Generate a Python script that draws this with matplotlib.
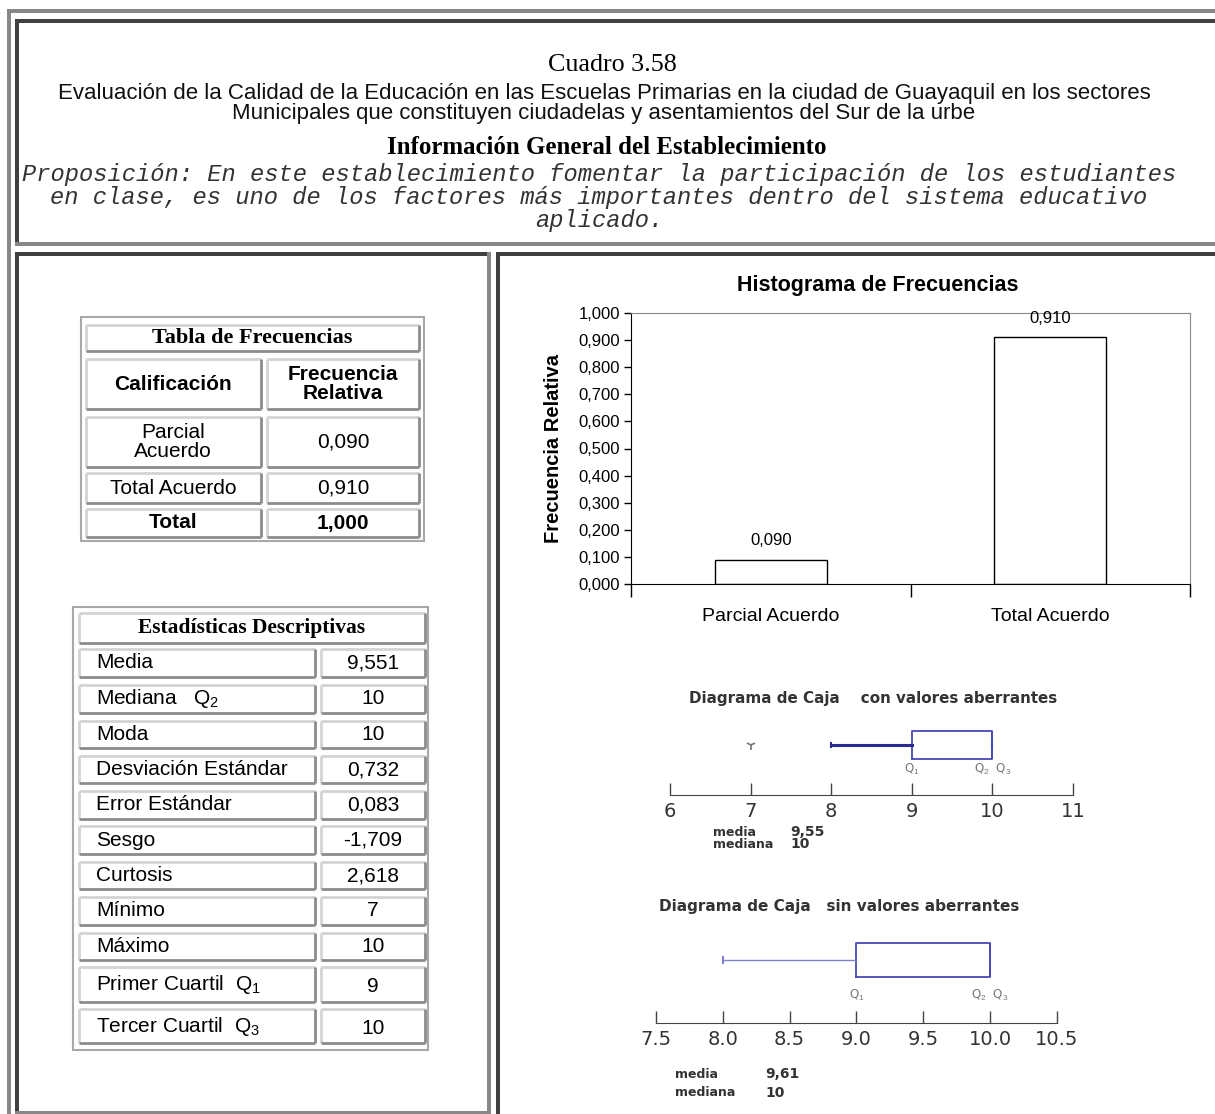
import matplotlib
matplotlib.use("Agg")
import matplotlib.pyplot as plt
from matplotlib.patches import Rectangle
from matplotlib.ticker import FuncFormatter

plt.rcParams['mathtext.fontset'] = 'custom'
plt.rcParams['mathtext.rm'] = 'Liberation Sans'
plt.rcParams['mathtext.it'] = 'Liberation Sans'

# ---- data ----
categories = ["Parcial Acuerdo", "Total Acuerdo"]
freq_rel = [0.090, 0.910]
freq_total = 1.000

stat_names = ["Media", "Mediana   Q$_\\mathrm{2}$", "Moda", "Desviación Estándar",
              "Error Estándar", "Sesgo", "Curtosis", "Mínimo", "Máximo",
              "Primer Cuartil  Q$_\\mathrm{1}$", "Tercer Cuartil  Q$_\\mathrm{3}$"]
stat_values = ["9,551", "10", "10", "0,732", "0,083", "-1,709", "2,618", "7", "10", "9", "10"]

# box plot with outliers
box1_q1, box1_med, box1_q3 = 9, 10, 10
box1_lo, box1_hi = 8, 10
box1_out = [7]
box1_mean = "9,55"
box1_ticks = [6, 7, 8, 9, 10, 11]

# box plot without outliers
box2_q1, box2_med, box2_q3 = 9, 10, 10
box2_lo, box2_hi = 8, 10
box2_out = []
box2_mean = "9,61"
box2_ticks = [7.5, 8.0, 8.5, 9.0, 9.5, 10.0, 10.5]

W, H = 1215, 1114
GRAY = "#878787"
DARK = "#404040"
SANS = "Liberation Sans"
SERIF = "Liberation Serif"
MONO = "Liberation Mono"


def comma(v, n=3):
    return f"{v:.{n}f}".replace(".", ",")


def px_axes(fig, x0, y0, x1, y1):
    # pixel box (top-left origin) -> figure axes
    return fig.add_axes([x0 / W, 1 - y1 / H, (x1 - x0) / W, (y1 - y0) / H])


fig = plt.figure(figsize=(W / 100, H / 100), dpi=100)
bg = fig.add_axes([0, 0, 1, 1])
bg.set_xlim(0, W)
bg.set_ylim(H, 0)
bg.axis("off")


def band(x0, y0, x1, y1, c):
    bg.add_patch(Rectangle((x0, y0), x1 - x0, y1 - y0, color=c, lw=0))


# frames
band(7, 9, W, 12.5, GRAY)
band(7, 9, 11, H, GRAY)
band(15, 19, W, 23, DARK)
band(15, 19, 19, 246, DARK)
band(15, 242, W, 246, GRAY)
band(15, 252, 491, 256, DARK)
band(15, 252, 19, H, DARK)
band(487, 252, 491, H, GRAY)
band(15, 1111, 491, H, GRAY)
band(496, 252, W, 256, DARK)
band(496, 252, 500, H, DARK)

# header texts
bg.text(612, 65, "Cuadro 3.58", family=SERIF, fontsize=18.7, ha="center", va="center")
bg.text(604, 93, "Evaluación de la Calidad de la Educación en las Escuelas Primarias en la ciudad de Guayaquil en los sectores",
        family=SANS, fontsize=16, ha="center", va="center", color="#111")
bg.text(604, 113, "Municipales que constituyen ciudadelas y asentamientos del Sur de la urbe",
        family=SANS, fontsize=16, ha="center", va="center", color="#111")
bg.text(607, 148, "Información General del Establecimiento", family=SERIF, fontsize=17.9,
        weight="bold", ha="center", va="center")
prop_lines = ["Proposición: En este establecimiento fomentar la participación de los estudiantes",
              "en clase, es uno de los factores más importantes dentro del sistema educativo",
              "aplicado."]
for i, ln in enumerate(prop_lines):
    bg.text(599, 175 + i * 22.5, ln, family=MONO, style="italic", fontsize=17.1,
            ha="center", va="center", color="#333")


def cell(x0, y0, x1, y1):
    bg.plot([x0, x1, ], [y0, y0], color="#d4d4d4", lw=2, solid_capstyle="butt")
    bg.plot([x0, x0], [y0, y1], color="#d4d4d4", lw=2, solid_capstyle="butt")
    bg.plot([x0, x1], [y1, y1], color="#8c8c8c", lw=2, solid_capstyle="butt")
    bg.plot([x1, x1], [y0, y1], color="#8c8c8c", lw=2, solid_capstyle="butt")


# frequency table
bg.add_patch(Rectangle((81, 317), 343, 224, fill=False, ec="#a8a8a8", lw=1.5))
cell(86, 325, 419, 351)
bg.text(252, 338, "Tabla de Frecuencias", family=SERIF, weight="bold", fontsize=16,
        ha="center", va="center")
cell(86, 359, 261, 409)
cell(267, 359, 419, 409)
bg.text(173, 384, "Calificación", family=SANS, weight="bold", fontsize=15, ha="center", va="center")
bg.text(343, 384, "Frecuencia\nRelativa", family=SANS, weight="bold", fontsize=15,
        ha="center", va="center", linespacing=1.05)
rows = [(417, 467), (473, 503)]
labels_tab = ["Parcial\nAcuerdo", "Total Acuerdo"]
for (y0, y1), lab, v in zip(rows, labels_tab, freq_rel):
    cell(86, y0, 261, y1)
    cell(267, y0, 419, y1)
    bg.text(173, (y0 + y1) / 2, lab, family=SANS, fontsize=15, ha="center", va="center",
            linespacing=1.05)
    bg.text(343, (y0 + y1) / 2, comma(v), family=SANS, fontsize=15, ha="center", va="center")
cell(86, 509, 261, 537)
cell(267, 509, 419, 537)
bg.text(173, 523, "Total", family=SANS, weight="bold", fontsize=15, ha="center", va="center")
bg.text(343, 523, comma(freq_total), family=SANS, weight="bold", fontsize=15, ha="center", va="center")

# descriptive statistics table
bg.add_patch(Rectangle((73, 607), 355, 443, fill=False, ec="#a8a8a8", lw=1.5))
cell(79, 613, 425, 643)
bg.text(252, 628, "Estadísticas Descriptivas", family=SERIF, weight="bold", fontsize=15.5,
        ha="center", va="center")
row_ys = [(649, 677), (685, 713), (721, 748), (756, 783), (791, 819), (826, 854),
          (862, 889), (897, 925), (933, 960), (967, 1002), (1009, 1043)]
for (y0, y1), name, val in zip(row_ys, stat_names, stat_values):
    cell(79, y0, 315, y1)
    cell(321, y0, 425, y1)
    bg.text(96, (y0 + y1) / 2, name, family=SANS, fontsize=15, ha="left", va="center")
    bg.text(373, (y0 + y1) / 2 + (2 if y1 - y0 > 30 else 0), val, family=SANS, fontsize=15,
            ha="center", va="center")

# histogram
ax = px_axes(fig, 631, 313, 1190, 584)
xpos = list(range(len(categories)))
bars = ax.bar(xpos, freq_rel, width=0.4, color="white", edgecolor="black", lw=1)
ax.set_xlim(-0.5, len(categories) - 0.5)
ax.set_ylim(0, 1.0)
ax.set_yticks([i / 10 for i in range(11)])
ax.yaxis.set_major_formatter(FuncFormatter(lambda v, p: comma(v)))
ax.set_xticks([-0.5, 0.5, 1.5])
ax.set_xticklabels([])
ax.set_xticks(xpos, minor=True)
ax.set_xticklabels(categories, minor=True, family=SANS, fontsize=14)
ax.tick_params(axis="x", which="major", direction="out", length=9, width=1)
ax.tick_params(axis="x", which="minor", length=0, pad=17)
ax.tick_params(axis="y", direction="out", length=5, width=1, pad=3)
for t in ax.get_yticklabels():
    t.set_family(SANS)
    t.set_fontsize(12)
for s in ["top", "right"]:
    ax.spines[s].set_color("#8a8a8a")
for b, v in zip(bars, freq_rel):
    ax.annotate(comma(v), (b.get_x() + b.get_width() / 2, v), xytext=(0, 13.5),
                textcoords="offset points", ha="center", va="center", family=SANS, fontsize=12)
ax.set_ylabel("Frecuencia Relativa", family=SANS, weight="bold", fontsize=14.5, labelpad=11)
bg.text(878, 286, "Histograma de Frecuencias", family=SANS, weight="bold", fontsize=15.5,
        ha="center", va="center")


def box_panel(x0, x1, ytop, yaxis, xlims, ticks, stats, yc, bh, lw_w, wcol, fmt):
    a = px_axes(fig, x0, ytop, x1, yaxis)
    hgt = yaxis - ytop
    pos = (yaxis - yc) / hgt
    a.bxp([stats], positions=[pos], widths=bh / hgt, orientation="horizontal",
          showfliers=True, capwidths=0.06,
          boxprops=dict(color="#4848b8", lw=1.3),
          whiskerprops=dict(color=wcol, lw=lw_w),
          capprops=dict(color=wcol, lw=1.5),
          medianprops=dict(color="#4848b8", lw=1.3),
          flierprops=dict(marker="1", markersize=7, markeredgecolor="#777", markeredgewidth=1.2))
    a.set_xlim(*xlims)
    a.set_ylim(0, 1)
    a.set_xticks(ticks)
    a.set_xticklabels([fmt(t) for t in ticks], fontsize=14, color="#333")
    a.tick_params(axis="x", direction="in", length=9, width=1, color="#444", pad=5)
    a.set_yticks([])
    for s in ["top", "right", "left"]:
        a.spines[s].set_visible(False)
    a.spines["bottom"].set_color("#444")
    a.patch.set_alpha(0)
    return a, pos


stats1 = dict(med=box1_med, q1=box1_q1, q3=box1_q3, whislo=box1_lo, whishi=box1_hi, fliers=box1_out)
a1, p1 = box_panel(670, 1073, 720, 795, (6, 11), box1_ticks, stats1, 745, 28, 2.2, "#2a2a90",
                   lambda t: f"{t:d}")
a1.text(box1_q1, (795 - 769) / 75, "Q$_\\mathrm{1}$", fontsize=8.5, color="#777", ha="center", va="center")
a1.text(box1_q3, (795 - 769) / 75, "Q$_\\mathrm{2}$  Q$_\\mathrm{3}$", fontsize=8.5, color="#777",
        ha="center", va="center")
bg.text(873, 698, "Diagrama de Caja    con valores aberrantes", fontsize=10.9, weight="bold",
        color="#333", ha="center", va="center")
bg.text(713, 832, "media", fontsize=9, weight="bold", color="#333", va="center")
bg.text(790, 832, box1_mean, fontsize=10, weight="bold", color="#333", va="center")
bg.text(713, 844, "mediana", fontsize=9, weight="bold", color="#333", va="center")
bg.text(790, 844, f"{box1_med}", fontsize=10, weight="bold", color="#333", va="center")

stats2 = dict(med=box2_med, q1=box2_q1, q3=box2_q3, whislo=box2_lo, whishi=box2_hi, fliers=box2_out)
a2, p2 = box_panel(656, 1057, 930, 1023, (7.5, 10.5), box2_ticks, stats2, 960, 34, 1.0, "#8080d0",
                   lambda t: f"{t:.1f}")
a2.text(box2_q1, (1023 - 995) / 93, "Q$_\\mathrm{1}$", fontsize=8.5, color="#777", ha="center", va="center")
a2.text(box2_q3, (1023 - 995) / 93, "Q$_\\mathrm{2}$  Q$_\\mathrm{3}$", fontsize=8.5, color="#777",
        ha="center", va="center")
bg.text(839, 907, "Diagrama de Caja   sin valores aberrantes", fontsize=11, weight="bold",
        color="#333", ha="center", va="center")
bg.text(675, 1074, "media", fontsize=9, weight="bold", color="#333", va="center")
bg.text(765, 1074, box2_mean, fontsize=10, weight="bold", color="#333", va="center")
bg.text(675, 1093, "mediana", fontsize=9, weight="bold", color="#333", va="center")
bg.text(765, 1093, f"{box2_med}", fontsize=10, weight="bold", color="#333", va="center")

fig.savefig("out.png", dpi=100)
